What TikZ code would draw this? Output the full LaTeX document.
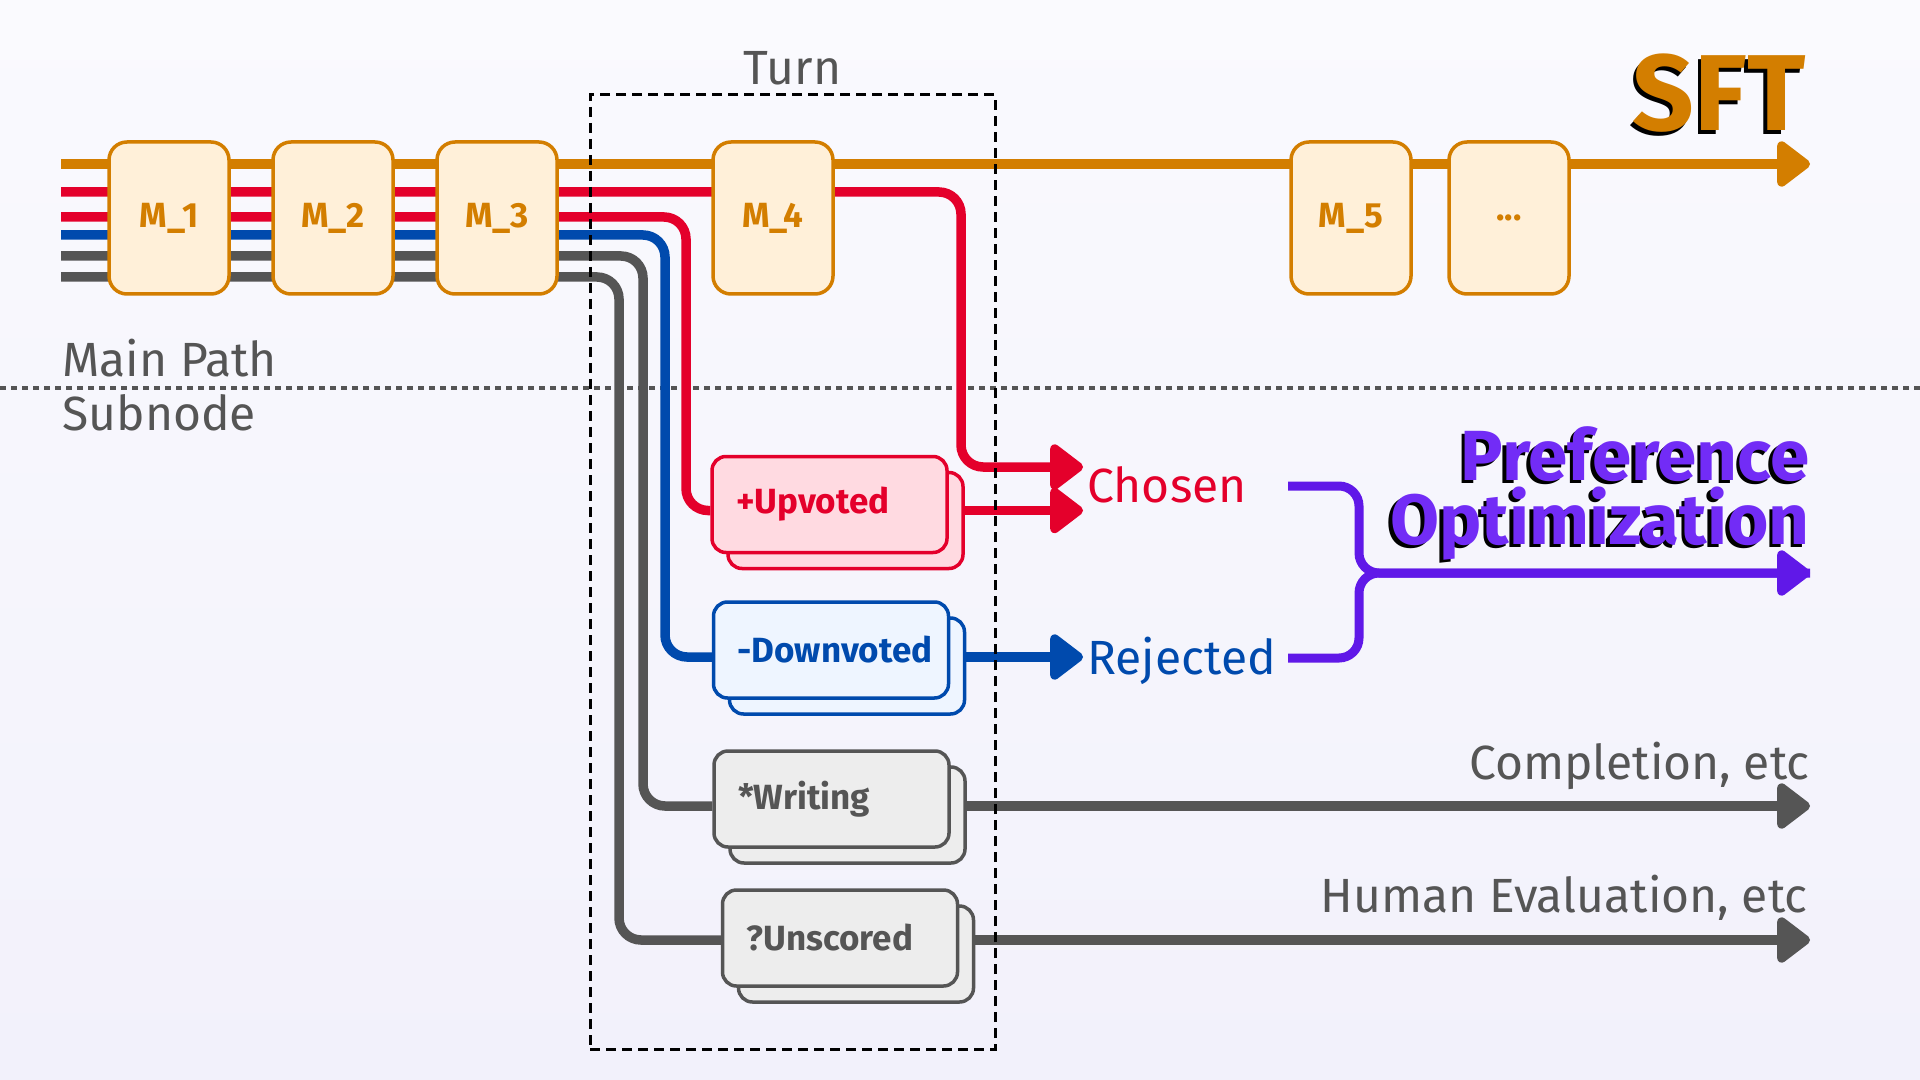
\documentclass[tikz,border=0pt]{standalone}
\usepackage{fontspec}
\setmainfont{Fira Sans}[BoldFont={Fira Sans Bold}]
\usetikzlibrary{arrows.meta,calc}
\definecolor{cOr}{RGB}{211,126,0}
\definecolor{cOrF}{RGB}{255,240,217}
\definecolor{cRed}{RGB}{228,0,43}
\definecolor{cRedF}{RGB}{255,218,225}
\definecolor{cBlue}{RGB}{0,74,173}
\definecolor{cBlueF}{RGB}{238,245,255}
\definecolor{cGr}{RGB}{85,85,85}
\definecolor{cGrF}{RGB}{237,237,237}
\definecolor{cPur}{RGB}{96,24,232}
\definecolor{cPurT}{RGB}{114,44,246}
\definecolor{bgTop}{RGB}{250,250,254}
\definecolor{bgBot}{RGB}{242,241,251}
\newcommand\shadowtxt[2]{\makebox[0pt][l]{\hspace*{-1.8pt}\raisebox{-1.8pt}{\color{black}#2}}{\color{#1}#2}}
\pgfdeclarelayer{back}
\pgfdeclarelayer{bg}
\pgfsetlayers{back,bg,main}
\begin{document}
\begin{tikzpicture}[x=0.5pt,y=-0.5pt,
  tip/.style={-{Triangle[length=18pt,width=26pt,round]}},
  flow/.style={line width=4.75pt, rounded corners=11pt},
  mbox/.style={draw=cOr, fill=cOrF, line width=1.75pt, rounded corners=9pt,
    minimum width=60pt, minimum height=76pt, inner sep=0pt, text=cOr,
    font=\bfseries\fontsize{17.5}{18}\selectfont},
  subbox/.style={line width=1.75pt, rounded corners=7pt, minimum height=48pt,
    text width=93.5pt, inner xsep=12pt, inner ysep=0pt, align=left,
    font=\bfseries\fontsize{17.5}{18}\selectfont},
  subR/.style={subbox, draw=cRed, fill=cRedF, text=cRed},
  subB/.style={subbox, draw=cBlue, fill=cBlueF, text=cBlue},
  subG/.style={subbox, draw=cGr, fill=cGrF, text=cGr},
  lbl/.style={inner sep=0pt, text=cGr, font=\fontsize{24}{26}\selectfont},
  ttl/.style={inner sep=0pt, align=right, font=\bfseries\fontsize{35.5}{32}\selectfont},
  bigttl/.style={inner sep=0pt, font=\bfseries\fontsize{54}{56}\selectfont},
  turnbox/.style={draw=black, line width=1.5pt, dash pattern=on 5pt off 3pt,
    minimum width=202.5pt, minimum height=477pt, inner sep=0pt},
  sep/.style={draw=cGr, line width=2.2pt, dash pattern=on 3pt off 2.5pt}
]
\useasboundingbox (0,0) rectangle (1920,1080);
\begin{pgfonlayer}{back}
  \shade[top color=bgTop, bottom color=bgBot] (0,0) rectangle (1920,1080);
\end{pgfonlayer}

% main path boxes
\node[mbox] (m1) at (169,218) {M\_1};
\node[mbox] (m2) at (333,218) {M\_2};
\node[mbox] (m3) at (497,218) {M\_3};
\node[mbox] (m4) at (773,218) {M\_4};
\node[mbox] (m5) at (1351,218) {M\_5};
\node[mbox] (m6) at (1509,218) {...};

% subnodes (stack: back copy then front)
\node[subR] (upb) at (845.5,520.5) {};
\node[subR] (up) at (829.5,504.5) {\mbox{+Upvoted}};
\node[subB] (downb) at (847,666) {};
\node[subB] (down) at (831,650) {\mbox{-Downvoted}};
\node[subG] (writeb) at (847.5,815) {};
\node[subG] (write) at (831.5,799) {\mbox{*Writing}};
\node[subG] (unscb) at (856,954) {};
\node[subG] (unsc) at (840,938) {\mbox{?Unscored}};

% turn frame
\node[turnbox] (turn) at (792.5,572) {};
\node[lbl, anchor=base] (turnlbl) at (792.5,85) {Turn};

% labels
\node[lbl, anchor=base west] (mainpath) at (62,377) {Main Path};
\node[lbl, anchor=base west] (subnode) at (62,430) {Subnode};
\node[lbl, anchor=base east] (compl) at (1810,779) {Completion, etc};
\node[lbl, anchor=base east] (humev) at (1808,912) {Human Evaluation, etc};
\node[lbl, text=cRed, anchor=base west] (chosen) at (1087,502) {Chosen};
\node[lbl, text=cBlue, anchor=base west] (rejected) at (1087,674) {Rejected};

% titles with shadow
\node[bigttl, anchor=base east] (sft) at (1806,131) {\shadowtxt{cOr}{SFT}};
\node[ttl, anchor=base east] (po) at (1810,544)
  {\shadowtxt{cPurT}{Preference}\\\shadowtxt{cPurT}{Optimization}};

% coordinates
\coordinate (s1) at (61,164);
\coordinate (s2) at (61,192);
\coordinate (s3) at (61,217);
\coordinate (s4) at (61,235);
\coordinate (s5) at (61,256);
\coordinate (s6) at (61,277);
\coordinate (sftend) at (1810,164);
\coordinate (k1) at (961,467);
\coordinate (k2) at (686,510.5);
\coordinate (k3) at (665,657);
\coordinate (k4) at (643,806);
\coordinate (k5) at (619,940);
\coordinate (cho1) at (1083,467);
\coordinate (cho2) at (1083,510.5);
\coordinate (rej1) at (1083,657);
\coordinate (gend1) at (1810,806);
\coordinate (gend2) at (1810,940);
\coordinate (pc) at (1288,486);
\coordinate (pr) at (1288,658);
\coordinate (k6) at (1359,573);
\coordinate (poend) at (1810,573);
\coordinate (dl) at (0,388);
\coordinate (dr) at (1920,388);

\begin{pgfonlayer}{bg}
  \draw[sep] (dl) -- (dr);
  \draw[flow, cOr, line width=5pt, tip] (s1) -- (sftend);
  \draw[flow, cRed, tip] (s2) -| (k1) -- (cho1);
  \draw[flow, cRed] (s3) -| (k2) -- ($(up.west)+(0,6)$);
  \draw[flow, cBlue] (s4) -| (k3) -- ($(down.west)+(0,7)$);
  \draw[flow, cGr] (s5) -| (k4) -- ($(write.west)+(0,7)$);
  \draw[flow, cGr] (s6) -| (k5) -- ($(unsc.west)+(0,2)$);
  \draw[flow, cRed, tip] ($(up.east)+(16,6)$) -- (cho2);
  \draw[flow, cBlue, tip] ($(down.east)+(16,7)$) -- (rej1);
  \draw[flow, cGr, tip] ($(write.east)+(16,7)$) -- (gend1);
  \draw[flow, cGr, tip] ($(unsc.east)+(16,2)$) -- (gend2);
  \draw[flow, cPur, line width=4.5pt, rounded corners=10pt] (pc) -| (k6) -- (poend);
  \draw[flow, cPur, line width=4.5pt, rounded corners=10pt, tip] (pr) -| (k6) -- (poend);
\end{pgfonlayer}
\end{tikzpicture}
\end{document}
